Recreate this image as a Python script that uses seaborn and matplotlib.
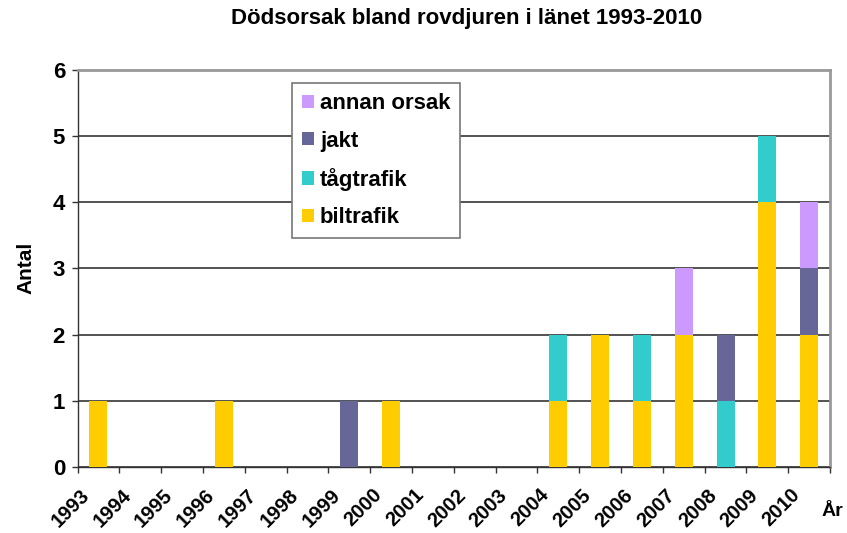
import matplotlib
matplotlib.use("Agg")
import matplotlib.pyplot as plt
import matplotlib.transforms as mtransforms
import seaborn as sns
import numpy as np
from matplotlib.patches import Patch

years = [str(y) for y in range(1993, 2011)]
biltrafik = [1, 0, 0, 1, 0, 0, 0, 1, 0, 0, 0, 1, 2, 1, 2, 0, 4, 2]
tagtrafik = [0, 0, 0, 0, 0, 0, 0, 0, 0, 0, 0, 1, 0, 1, 0, 1, 1, 0]
jakt = [0, 0, 0, 0, 0, 0, 1, 0, 0, 0, 0, 0, 0, 0, 0, 1, 0, 1]
annan = [0, 0, 0, 0, 0, 0, 0, 0, 0, 0, 0, 0, 0, 0, 1, 0, 0, 1]

series = ["biltrafik", "tågtrafik", "jakt", "annan orsak"]
colors = ["#FFCC00", "#33CCCC", "#666699", "#CC99FF"]

sns.set_style("white")
plt.rcParams["font.family"] = ["Liberation Sans", "DejaVu Sans"]
plt.rcParams["font.weight"] = "bold"
plt.rcParams["text.color"] = "black"
plt.rcParams["axes.labelcolor"] = "black"
plt.rcParams["xtick.color"] = "black"
plt.rcParams["ytick.color"] = "black"

fig = plt.figure(figsize=(8.47, 5.33), dpi=100)
ax = fig.add_axes([0.0915, 0.1238, 0.8885, 0.7458])

# stacked bars: draw cumulative totals from the top down
stack = np.array([biltrafik, tagtrafik, jakt, annan])
cum = np.cumsum(stack, axis=0)
for i in range(3, -1, -1):
    sns.barplot(x=years, y=cum[i], order=years, color=colors[i], width=0.43,
                saturation=1, errorbar=None, linewidth=0, ax=ax, zorder=3)

ax.set_ylim(0, 6)
ax.set_xlim(-0.5, 17.5)
ax.set_yticks(range(0, 7))
ax.yaxis.grid(True, color="#444444", linewidth=1.3, zorder=0)
ax.set_axisbelow(True)

for s in ["top", "right"]:
    ax.spines[s].set_color("#999999")
    ax.spines[s].set_linewidth(2)
for s in ["left", "bottom"]:
    ax.spines[s].set_color("#333333")
    ax.spines[s].set_linewidth(1)

ax.tick_params(axis="y", which="major", direction="out", length=4, width=1,
               color="#333333", pad=5, labelsize=16, left=True)
ax.set_xticks(range(len(years)))
ax.set_xticklabels(years, fontsize=14.5, fontweight="bold")
ax.set_xticks(np.arange(-0.5, 18, 1), minor=True)
ax.tick_params(axis="x", which="major", length=0, pad=18)
ax.tick_params(axis="x", which="minor", direction="out", length=4, width=1,
               color="#333333", bottom=True)
shift = mtransforms.ScaledTranslation(-12 / 100, 0, fig.dpi_scale_trans)
for lab in ax.get_xticklabels():
    lab.set_rotation(45)
    lab.set_rotation_mode("anchor")
    lab.set_ha("right")
    lab.set_va("center")
    lab.set_transform(lab.get_transform() + shift)
for lab in ax.get_yticklabels():
    lab.set_fontweight("bold")

ax.set_xlabel("")
ax.set_ylabel("Antal", fontsize=15, fontweight="bold", labelpad=12)

fig.text(0.551, 0.966, "Dödsorsak bland rovdjuren i länet 1993-2010",
         ha="center", va="center", fontsize=16, fontweight="bold")
fig.text(0.983, 0.04, "År", ha="center", va="center", fontsize=14, fontweight="bold")

handles = [Patch(facecolor=colors[i], edgecolor="none") for i in range(3, -1, -1)]
labels = [series[i] for i in range(3, -1, -1)]
leg = fig.legend(handles, labels, loc="upper left", bbox_to_anchor=(0.345, 0.844),
                 borderaxespad=0, frameon=True, fancybox=False, framealpha=1,
                 edgecolor="#777777", prop={"size": 16, "weight": "bold"},
                 handlelength=0.55, handleheight=0.55, handletextpad=0.25,
                 labelspacing=0.74, borderpad=0.45)
leg.get_frame().set_linewidth(1.2)

fig.savefig("out.png", dpi=100)
